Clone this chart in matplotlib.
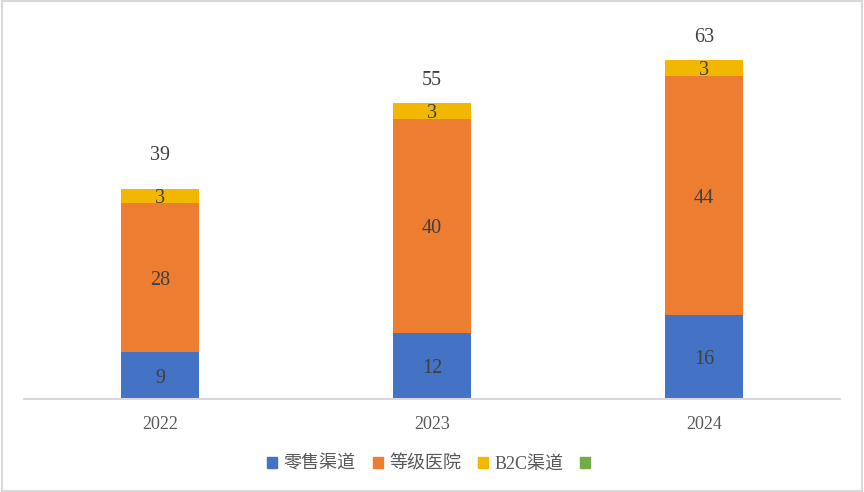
import matplotlib.pyplot as plt
import matplotlib.patches as mpatches
import numpy as np

years = ['2022', '2023', '2024']
retail = [8.7, 12.3, 15.6]      # 零售渠道
hospital = [27.7, 39.8, 44.4]   # 等级医院
b2c = [2.6, 2.9, 3.0]           # B2C渠道
totals = [39, 55, 63]

colors = ['#4472C4', '#ED7D31', '#F2B800', '#70AD47']
names = ['零售渠道', '等级医院', 'B2C渠道', '']

serif = ['Liberation Serif', 'Noto Sans CJK SC']
plt.rcParams['font.family'] = serif

fig = plt.figure(figsize=(8.64, 4.92), dpi=100)
ax = fig.add_axes([0.0278, 0.189, 0.9444, 0.766])

x = np.arange(len(years))
w = 0.287
bottom = np.zeros(len(years))
for vals, c in zip([retail, hospital, b2c], colors):
    ax.bar(x, vals, w, bottom=bottom, color=c)
    for xi, b, v in zip(x, bottom, vals):
        ax.annotate('%.0f' % v, (xi, b + v / 2), xytext=(0, -2),
                    textcoords='offset points', ha='center', va='center',
                    fontsize=14.5, color='#404040')
    bottom = bottom + np.array(vals)

# total labels above each bar
offs = [6.7, 4.7, 4.7]
for xi, top, t, o in zip(x, bottom, totals, offs):
    ax.annotate(str(t), (xi, top + o), xytext=(0, -2),
                textcoords='offset points', ha='center', va='center',
                fontsize=14.5, color='#404040')

ax.set_xlim(-0.5, 2.5)
ax.set_ylim(0, 70)
ax.set_xticks(x)
ax.set_xticklabels(years, fontsize=13, color='#595959')
ax.tick_params(axis='x', length=0, pad=12)
ax.set_yticks([])
for s in ['top', 'left', 'right']:
    ax.spines[s].set_visible(False)
ax.spines['bottom'].set_color('#D9D9D9')
ax.spines['bottom'].set_linewidth(1.5)

handles = [mpatches.Patch(color=c) for c in colors]
fig.legend(handles, names, loc='center', bbox_to_anchor=(0.5, 0.056), ncol=4,
           frameon=False, handlelength=0.55, handleheight=0.55,
           handletextpad=0.35, columnspacing=0.95,
           prop={'family': serif, 'size': 13}, labelcolor='#595959')

fig.patches.append(mpatches.Rectangle((0.002, 0.003), 0.996, 0.994,
                                      transform=fig.transFigure, fill=False,
                                      edgecolor='#D9D9D9', linewidth=1.5))

fig.savefig('out.png', dpi=100)
